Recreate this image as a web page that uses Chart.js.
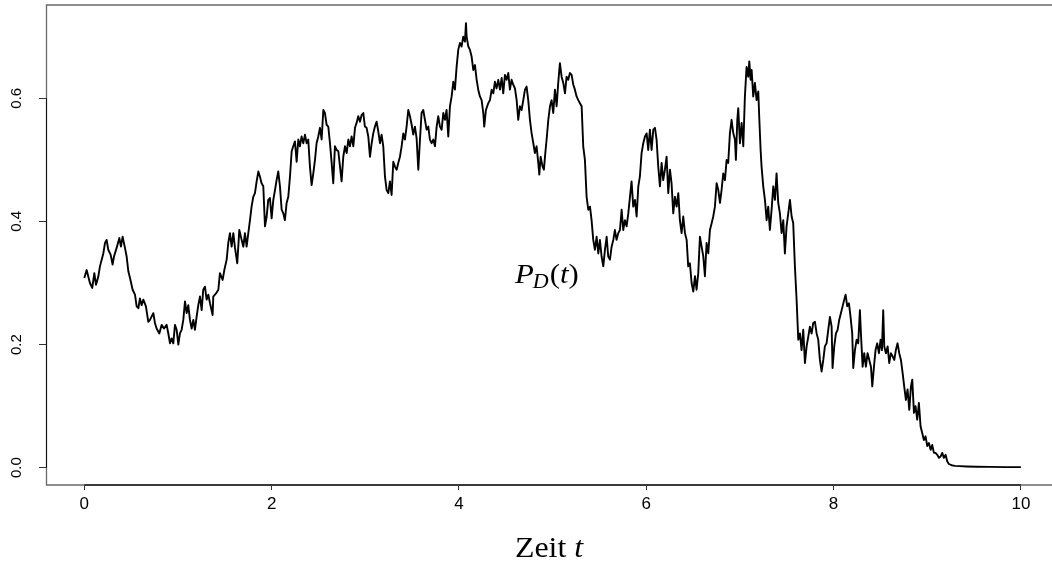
<!DOCTYPE html>
<html>
<head>
<meta charset="utf-8">
<script src="https://cdn.jsdelivr.net/npm/chart.js@4.4.1/dist/chart.umd.min.js"></script>
<style>
  html, body { margin: 0; padding: 0; background: #ffffff; }
  canvas { display: block; }
</style>
</head>
<body>
<canvas id="chart" width="1052" height="563"></canvas>
<script>
// Sample path of P_D(t), t in [0, 10], split into five stretches.
const t1 = [
  0.000,0.025,0.060,0.085,0.107,0.125,0.149,0.167,0.203,0.221,
  0.238,0.256,0.281,0.302,0.317,0.345,0.374,0.391,0.409,0.434,
  0.452,0.470,0.488,0.516,0.541,0.559,0.577,0.594,0.612,0.630,
  0.658,0.683,0.701,0.737,0.754,0.772,0.801,0.826,0.851,0.879,
  0.897,0.915,0.932,0.950,0.968,0.986,1.004,1.021,1.039,1.057,
  1.075,1.093,1.110,1.128,1.146,1.164,1.181,1.199,1.217,1.235,
  1.253,1.270,1.288,1.306,1.324,1.342,1.370,1.377,1.406,1.431,
  1.448,1.477,1.495,1.520,1.537
];
const p1 = [
  0.308,0.321,0.300,0.292,0.316,0.297,0.310,0.327,0.348,0.365,
  0.370,0.354,0.346,0.330,0.343,0.357,0.373,0.359,0.375,0.357,
  0.343,0.319,0.308,0.289,0.281,0.262,0.259,0.275,0.264,0.273,
  0.262,0.237,0.240,0.251,0.235,0.226,0.218,0.232,0.226,0.232,
  0.218,0.202,0.210,0.202,0.232,0.224,0.200,0.218,0.224,0.240,
  0.270,0.251,0.264,0.240,0.226,0.240,0.224,0.245,0.264,0.278,
  0.256,0.289,0.294,0.273,0.281,0.267,0.248,0.278,0.283,0.289,
  0.316,0.305,0.321,0.338,0.365
];
const t2 = [
  1.555,1.573,1.591,1.609,1.633,1.655,1.680,1.698,1.715,1.733,
  1.751,1.769,1.786,1.804,1.822,1.840,1.858,1.875,1.893,1.911,
  1.929,1.947,1.964,1.982,2.000,2.018,2.036,2.053,2.071,2.089,
  2.107,2.125,2.142,2.160,2.178,2.196,2.214,2.231,2.249,2.267,
  2.285,2.302,2.320,2.338,2.356,2.374,2.391,2.409,2.427,2.445,
  2.463,2.480,2.498,2.516,2.534,2.552,2.569,2.587,2.605,2.623,
  2.641,2.658,2.676,2.694,2.712,2.730,2.747,2.765,2.783,2.801,
  2.819,2.836,2.854,2.872,2.890,2.907,2.925,2.943,2.961,2.979,
  2.996,3.014,3.032,3.050,3.068,3.085,3.103,3.121,3.139,3.157,
  3.174,3.192,3.210,3.228,3.246,3.263,3.281,3.299,3.317,3.335,
  3.352,3.370,3.388,3.406,3.423,3.441,3.459,3.477,3.495,3.512,
  3.530,3.548,3.566,3.584,3.601,3.619,3.637,3.655,3.673,3.690
];
const p2 = [
  0.381,0.359,0.381,0.357,0.332,0.386,0.370,0.359,0.381,0.359,
  0.381,0.402,0.424,0.440,0.446,0.465,0.481,0.473,0.462,0.457,
  0.392,0.408,0.435,0.438,0.405,0.435,0.451,0.467,0.481,0.457,
  0.419,0.413,0.402,0.430,0.440,0.473,0.514,0.522,0.530,0.497,
  0.533,0.522,0.538,0.527,0.541,0.527,0.533,0.489,0.459,0.478,
  0.500,0.527,0.538,0.552,0.533,0.581,0.576,0.557,0.554,0.527,
  0.495,0.462,0.522,0.516,0.514,0.489,0.465,0.505,0.522,0.511,
  0.533,0.522,0.538,0.522,0.552,0.560,0.571,0.562,0.573,0.576,
  0.554,0.552,0.538,0.505,0.527,0.543,0.554,0.562,0.546,0.527,
  0.541,0.522,0.473,0.451,0.446,0.465,0.443,0.497,0.489,0.484,
  0.495,0.505,0.522,0.543,0.533,0.554,0.581,0.571,0.557,0.541,
  0.554,0.535,0.484,0.533,0.576,0.581,0.565,0.549,0.554,0.533
];
const t3 = [
  3.708,3.726,3.744,3.762,3.779,3.797,3.815,3.833,3.851,3.868,
  3.886,3.904,3.922,3.940,3.957,3.975,3.993,4.011,4.028,4.046,
  4.064,4.075,4.082,4.100,4.117,4.135,4.153,4.171,4.189,4.206,
  4.224,4.242,4.260,4.270,4.288,4.313,4.331,4.349,4.367,4.384,
  4.402,4.420,4.438,4.456,4.473,4.491,4.509,4.527,4.544,4.562,
  4.580,4.598,4.616,4.633,4.651,4.669,4.687,4.705,4.722,4.740,
  4.758,4.776,4.794,4.811,4.829,4.847,4.858,4.872,4.893,4.907,
  4.922,4.936,4.954,4.972,4.989,5.007,5.025,5.043,5.060,5.078,
  5.096,5.114,5.132,5.149,5.167,5.185,5.203,5.221,5.238,5.256,
  5.274,5.292,5.310,5.327,5.345,5.363,5.381,5.399,5.416,5.434,
  5.452,5.470,5.488,5.505,5.523,5.541,5.559,5.577,5.594,5.612,
  5.630,5.648,5.665,5.683,5.701,5.719
];
const p3 = [
  0.527,0.533,0.522,0.554,0.571,0.554,0.549,0.576,0.565,0.581,
  0.538,0.587,0.603,0.627,0.614,0.651,0.679,0.690,0.684,0.700,
  0.692,0.722,0.700,0.684,0.679,0.668,0.646,0.654,0.630,0.614,
  0.603,0.597,0.576,0.554,0.581,0.592,0.597,0.614,0.608,0.627,
  0.616,0.630,0.614,0.633,0.608,0.638,0.630,0.641,0.614,0.630,
  0.622,0.616,0.597,0.565,0.587,0.581,0.597,0.614,0.619,0.597,
  0.565,0.543,0.527,0.511,0.522,0.495,0.476,0.505,0.489,0.484,
  0.511,0.533,0.565,0.587,0.597,0.576,0.614,0.587,0.625,0.657,
  0.635,0.625,0.608,0.635,0.630,0.641,0.638,0.622,0.614,0.603,
  0.597,0.592,0.587,0.522,0.500,0.440,0.419,0.424,0.402,0.370,
  0.354,0.375,0.348,0.370,0.343,0.327,0.354,0.375,0.343,0.338,
  0.359,0.370,0.386,0.370,0.381,0.386
];
const t4 = [
  5.737,5.754,5.772,5.790,5.808,5.826,5.843,5.861,5.879,5.897,
  5.915,5.932,5.950,5.968,5.986,6.004,6.021,6.039,6.057,6.075,
  6.093,6.110,6.128,6.146,6.164,6.181,6.199,6.217,6.235,6.253,
  6.270,6.288,6.306,6.324,6.342,6.359,6.377,6.395,6.413,6.431,
  6.448,6.466,6.484,6.502,6.520,6.537,6.555,6.573,6.591,6.609,
  6.626,6.644,6.662,6.680,6.698,6.715,6.733,6.751,6.769,6.787,
  6.804,6.822,6.840,6.858,6.875,6.893,6.911,6.929,6.947,6.957,
  6.972,6.982,7.000,7.018,7.036,7.053,7.071,7.089,7.100,7.114,
  7.125,7.142,7.160,7.178,7.196,7.206,7.221,7.231,7.249,7.267,
  7.285,7.302,7.320,7.338,7.356,7.374,7.391,7.409,7.427,7.445,
  7.463,7.480,7.498,7.516,7.534,7.552,7.569,7.587,7.605,7.623,
  7.641,7.658,7.676,7.694,7.712,7.730,7.747
];
const p4 = [
  0.419,0.386,0.402,0.392,0.413,0.440,0.465,0.424,0.435,0.408,
  0.457,0.473,0.511,0.527,0.538,0.543,0.516,0.549,0.516,0.549,
  0.552,0.533,0.489,0.457,0.495,0.467,0.484,0.505,0.446,0.484,
  0.462,0.413,0.440,0.424,0.446,0.402,0.381,0.408,0.381,0.370,
  0.327,0.332,0.300,0.286,0.311,0.289,0.316,0.375,0.359,0.343,
  0.311,0.365,0.348,0.386,0.397,0.408,0.424,0.462,0.451,0.430,
  0.451,0.478,0.467,0.500,0.495,0.543,0.565,0.543,0.533,0.500,
  0.565,0.584,0.527,0.560,0.522,0.603,0.651,0.635,0.660,0.630,
  0.646,0.603,0.625,0.597,0.611,0.570,0.516,0.489,0.457,0.435,
  0.402,0.424,0.386,0.419,0.457,0.435,0.478,0.430,0.413,0.381,
  0.402,0.348,0.392,0.413,0.435,0.408,0.397,0.327,0.273,0.208,
  0.218,0.191,0.224,0.170,0.197,0.213,0.229
];
const t5 = [
  7.765,7.783,7.801,7.819,7.836,7.854,7.872,7.890,7.907,7.925,
  7.943,7.961,7.979,7.989,8.007,8.025,8.043,8.060,8.078,8.096,
  8.114,8.128,8.146,8.164,8.181,8.199,8.210,8.228,8.246,8.263,
  8.281,8.292,8.310,8.327,8.345,8.363,8.381,8.399,8.413,8.431,
  8.448,8.466,8.484,8.502,8.516,8.530,8.541,8.559,8.577,8.594,
  8.612,8.630,8.648,8.665,8.683,8.701,8.719,8.737,8.754,8.772,
  8.790,8.808,8.826,8.840,8.858,8.875,8.893,8.911,8.929,8.947,
  8.964,8.982,9.000,9.018,9.036,9.053,9.071,9.089,9.107,9.125,
  9.142,9.160,9.178,9.196,9.214,9.231,9.260,9.295,9.349,9.420,
  9.527,9.669,9.847,10.000
];
const p5 = [
  0.218,0.235,0.237,0.218,0.208,0.175,0.156,0.175,0.197,0.202,
  0.224,0.245,0.229,0.162,0.197,0.218,0.224,0.240,0.251,0.262,
  0.273,0.281,0.262,0.267,0.245,0.218,0.162,0.191,0.208,0.202,
  0.256,0.218,0.164,0.186,0.164,0.186,0.175,0.164,0.132,0.164,
  0.191,0.202,0.186,0.208,0.191,0.256,0.197,0.186,0.197,0.170,
  0.186,0.181,0.175,0.191,0.202,0.186,0.175,0.154,0.132,0.110,
  0.127,0.094,0.132,0.143,0.089,0.100,0.078,0.105,0.067,0.056,
  0.045,0.051,0.035,0.040,0.029,0.037,0.024,0.024,0.021,0.016,
  0.018,0.024,0.016,0.021,0.010,0.006,0.004,0.003,0.0025,0.002,
  0.0015,0.0013,0.001,0.001
];

// Axis ticks and the in-plot annotation position (data units).
const xTicks = [0, 2, 4, 6, 8, 10];
const yTicks = [0.0, 0.2, 0.4, 0.6];
const curveLabelAt = { t: 4.94, p: 0.313 };

const times = [].concat(t1, t2, t3, t4, t5);
const values = [].concat(p1, p2, p3, p4, p5);
const points = times.map((t, i) => ({ x: t, y: values[i] }));

const SANS = '"Liberation Sans", Arial, Helvetica, sans-serif';
const SERIF = '"Liberation Serif", "Times New Roman", serif';

// White page, frame box (the right side runs off the canvas) and axis lines.
const framePlugin = {
  id: 'frame',
  beforeDraw(chart) {
    const ctx = chart.ctx;
    ctx.save();
    ctx.fillStyle = '#ffffff';
    ctx.fillRect(0, 0, chart.width, chart.height);
    ctx.restore();
  },
  afterDraw(chart) {
    const { ctx, chartArea: a, scales: { x, y } } = chart;
    ctx.save();
    ctx.strokeStyle = '#6a6a6a';
    ctx.lineWidth = 1.3;
    ctx.beginPath();
    ctx.moveTo(a.right + 5, a.top);
    ctx.lineTo(a.left + 0.5, a.top);
    ctx.lineTo(a.left + 0.5, a.bottom);
    ctx.lineTo(a.right + 5, a.bottom);
    ctx.stroke();

    ctx.strokeStyle = '#3a3a3a';
    ctx.lineWidth = 2;
    ctx.beginPath();
    ctx.moveTo(x.getPixelForValue(xTicks[0]), a.bottom);
    ctx.lineTo(x.getPixelForValue(xTicks[xTicks.length - 1]), a.bottom);
    ctx.stroke();

    ctx.strokeStyle = '#111111';
    ctx.lineWidth = 1;
    ctx.beginPath();
    ctx.moveTo(a.left + 0.5, y.getPixelForValue(yTicks[0]));
    ctx.lineTo(a.left + 0.5, y.getPixelForValue(yTicks[yTicks.length - 1]));
    ctx.stroke();
    ctx.restore();
  }
};

// Serif labels: axis title under the plot and the curve name inside it.
const labelPlugin = {
  id: 'serifLabels',
  afterDraw(chart) {
    const { ctx, chartArea: a, scales: { x, y } } = chart;
    const stretch = 1.1;
    ctx.save();
    ctx.fillStyle = '#000000';
    ctx.textBaseline = 'alphabetic';

    // "Zeit t"
    const mainFont = '29px ' + SERIF;
    const italFont = 'italic 29px ' + SERIF;
    ctx.font = mainFont;
    const wZeit = ctx.measureText('Zeit ').width;
    ctx.font = italFont;
    const wT = ctx.measureText('t').width;
    const cx = (a.left + a.right) / 2;
    ctx.save();
    ctx.translate(cx, 557);
    ctx.scale(stretch, 1);
    let px = -(wZeit + wT) / 2;
    ctx.font = mainFont;
    ctx.fillText('Zeit ', px, 0);
    ctx.font = italFont;
    ctx.fillText('t', px + wZeit, 0);
    ctx.restore();

    // "P_D(t)"
    const bigItal = 'italic 28px ' + SERIF;
    const bigRom = '28px ' + SERIF;
    const subItal = 'italic 20px ' + SERIF;
    ctx.font = bigItal; const wP = ctx.measureText('P').width;
    ctx.font = subItal; const wD = ctx.measureText('D').width;
    ctx.font = bigRom; const wPar = ctx.measureText('(').width;
    ctx.font = bigItal; const wt = ctx.measureText('t').width;
    const total = wP + wD + 2 * wPar + wt;
    const lx = x.getPixelForValue(curveLabelAt.t);
    const ly = y.getPixelForValue(curveLabelAt.p);
    ctx.save();
    ctx.translate(lx, ly + 8);
    ctx.scale(stretch, 1);
    px = -total / 2;
    ctx.font = bigItal; ctx.fillText('P', px, 0); px += wP;
    ctx.font = subItal; ctx.fillText('D', px - 1, 5); px += wD;
    ctx.font = bigRom; ctx.fillText('(', px, 0); px += wPar;
    ctx.font = bigItal; ctx.fillText('t', px, 0); px += wt;
    ctx.font = bigRom; ctx.fillText(')', px, 0);
    ctx.restore();

    ctx.restore();
  }
};

new Chart(document.getElementById('chart'), {
  type: 'line',
  data: {
    datasets: [{
      label: 'P_D(t)',
      data: points,
      borderColor: '#000000',
      borderWidth: 1.9,
      borderJoinStyle: 'round',
      pointRadius: 0,
      tension: 0,
      fill: false
    }]
  },
  options: {
    responsive: false,
    animation: false,
    devicePixelRatio: 1,
    layout: { padding: { top: 5, right: 0, bottom: 0, left: 0 } },
    plugins: { legend: { display: false }, tooltip: { enabled: false } },
    scales: {
      x: {
        type: 'linear',
        min: -0.409,
        max: 10.332,
        afterBuildTicks: (s) => { s.ticks = xTicks.map(v => ({ value: v })); },
        afterFit: (s) => { s.height = 78; s.paddingLeft = 0; s.paddingRight = 0; },
        border: { display: false },
        grid: { drawOnChartArea: false, drawTicks: true, tickLength: 5, color: '#333333', lineWidth: 1 },
        ticks: {
          padding: 4,
          autoSkip: false,
          maxRotation: 0,
          minRotation: 0,
          color: '#000000',
          font: { family: SANS, size: 17 },
          callback: (v) => String(v)
        }
      },
      y: {
        type: 'linear',
        min: -0.0281,
        max: 0.7515,
        afterBuildTicks: (s) => { s.ticks = yTicks.map(v => ({ value: v })); },
        afterFit: (s) => { s.width = 46; s.paddingTop = 0; s.paddingBottom = 0; },
        border: { display: false },
        grid: { drawOnChartArea: false, drawTicks: true, tickLength: 7, color: '#333333', lineWidth: 1 },
        ticks: {
          padding: 12,
          autoSkip: false,
          minRotation: 90,
          maxRotation: 90,
          crossAlign: 'center',
          color: '#000000',
          font: { family: SANS, size: 15 },
          callback: (v) => Number(v).toFixed(1)
        }
      }
    }
  },
  plugins: [framePlugin, labelPlugin]
});
</script>
</body>
</html>
